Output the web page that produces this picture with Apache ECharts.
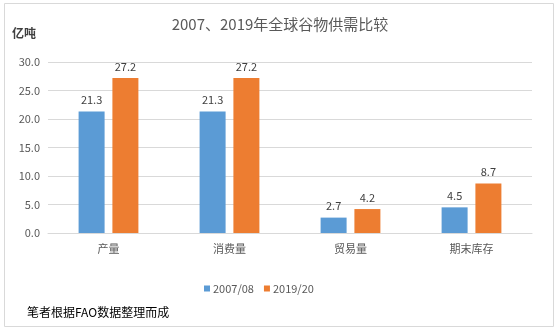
<!DOCTYPE html>
<html><head><meta charset="utf-8">
<script src="https://cdn.jsdelivr.net/npm/echarts@6/dist/echarts.min.js"></script>
<style>html,body{margin:0;padding:0;background:#fff}#c{width:560px;height:334px}</style>
</head><body><div id="c"></div>
<script>
const categories = ['产量', '消费量', '贸易量', '期末库存'];
const series2007 = [21.3, 21.3, 2.7, 4.5];
const series2019 = [27.2, 27.2, 4.2, 8.7];
const seriesNames = ['2007/08', '2019/20'];
const titleText = '2007、2019年全球谷物供需比较';
const unitText = '亿吨';
const noteText = '笔者根据FAO数据整理而成';

const font = '"Noto Sans CJK SC", "Noto Sans", sans-serif';
const chart = echarts.init(document.getElementById('c'), null, {renderer: 'canvas'});
const labelCfg = {show: true, position: 'top', distance: 6, color: '#404040', fontSize: 11, fontFamily: font, formatter: p => p.value.toFixed(1)};
chart.setOption({
  animation: false,
  title: {text: titleText, left: 'center', top: 12, textStyle: {fontSize: 15, fontWeight: 'normal', color: '#595959', fontFamily: font}},
  graphic: [
    {type: 'rect', shape: {x: 4.5, y: 3.5, width: 549, height: 323}, style: {fill: 'none', stroke: '#d9d9d9', lineWidth: 1}, z: -1},
    {type: 'text', left: 12, top: 27, style: {text: unitText, fill: '#404040', font: 'bold 12px ' + font}},
    {type: 'text', left: 27, top: 306, style: {text: noteText, fill: '#000', font: '12px ' + font}}
  ],
  legend: {data: seriesNames, top: 278, left: 199, itemWidth: 6, itemHeight: 6, itemGap: 10, icon: 'rect',
    textStyle: {fontSize: 11, color: '#595959', fontFamily: font, padding: [0, 0, 0, -2]}},
  grid: {left: 48, right: 28, top: 62, bottom: 101},
  xAxis: {type: 'category', data: categories,
    axisLine: {lineStyle: {color: '#d9d9d9'}}, axisTick: {show: false},
    axisLabel: {color: '#595959', fontSize: 11, fontFamily: font, margin: 10}},
  yAxis: {type: 'value', min: 0, max: 30, interval: 5,
    axisLine: {show: false}, axisTick: {show: false},
    splitLine: {lineStyle: {color: '#d9d9d9'}},
    axisLabel: {color: '#595959', fontSize: 11, fontFamily: font, formatter: v => v.toFixed(1), margin: 8}},
  series: [
    {name: seriesNames[0], type: 'bar', data: series2007, barWidth: 26, barGap: '30%', itemStyle: {color: '#5B9BD5'}, label: labelCfg},
    {name: seriesNames[1], type: 'bar', data: series2019, barWidth: 26, itemStyle: {color: '#ED7D31'}, label: labelCfg}
  ]
});
</script></body></html>
